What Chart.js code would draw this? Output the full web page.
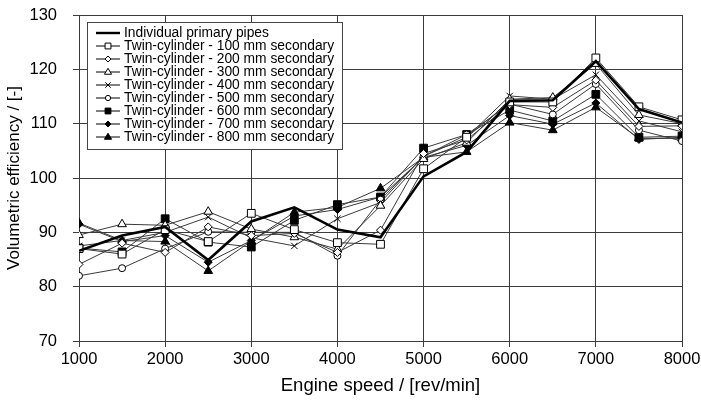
<!DOCTYPE html>
<html>
<head>
<meta charset="utf-8">
<script src="https://cdn.jsdelivr.net/npm/chart.js@4.4.0/dist/chart.umd.min.js"></script>
<style>
  html, body { margin: 0; padding: 0; background: #fff; }
</style>
</head>
<body>
<canvas id="myChart" width="701" height="406"></canvas>
<script>
// engine speed in rev/min
const speeds = [1000, 1500, 2000, 2500, 3000, 3500, 4000, 4500, 5000, 5500, 6000, 6500, 7000, 7500, 8000];

// volumetric efficiency for each exhaust layout
const primaryPipes = [86.6, 89.4, 91.0, 84.9, 92.0, 94.6, 90.5, 89.1, 100.3, 104.8, 114.2, 114.3, 121.5, 112.7, 110.2];
const twin100 = [87.0, 86.0, 90.5, 88.3, 93.5, 90.5, 88.1, 87.8, 101.7, 107.5, 114.0, 114.0, 122.1, 113.1, 110.7];
const twin200 = [84.1, 88.0, 86.3, 91.0, 89.4, 89.8, 86.3, 90.4, 104.5, 107.0, 113.5, 113.0, 118.0, 109.5, 109.6];
const twin300 = [89.5, 91.5, 91.3, 93.8, 90.6, 89.1, 86.9, 94.9, 103.5, 106.5, 114.5, 114.8, 121.0, 111.6, 110.0];
const twin400 = [87.5, 88.5, 90.0, 92.8, 89.0, 87.5, 92.5, 95.5, 104.0, 107.5, 115.1, 114.5, 119.0, 110.5, 108.5];
const twin500 = [82.0, 83.4, 87.0, 90.1, 90.0, 90.0, 85.7, 96.0, 104.0, 108.0, 113.6, 111.7, 117.3, 108.8, 106.8];
const twin600 = [87.1, 86.4, 92.5, 88.2, 87.3, 92.2, 95.1, 96.5, 105.5, 108.0, 112.5, 110.5, 115.4, 107.5, 107.7];
const twin700 = [91.5, 88.3, 89.4, 84.5, 88.5, 93.0, 94.2, 96.5, 103.8, 106.0, 111.5, 109.9, 113.8, 107.1, 107.5];
const twin800 = [91.7, 88.5, 88.3, 82.9, 88.4, 93.7, 94.6, 98.1, 103.8, 104.8, 110.2, 108.8, 113.0, 107.3, 107.3];

const seriesLabels = [
  "Individual primary pipes",
  "Twin-cylinder - 100 mm secondary",
  "Twin-cylinder - 200 mm secondary",
  "Twin-cylinder - 300 mm secondary",
  "Twin-cylinder - 400 mm secondary",
  "Twin-cylinder - 500 mm secondary",
  "Twin-cylinder - 600 mm secondary",
  "Twin-cylinder - 700 mm secondary",
  "Twin-cylinder - 800 mm secondary"
];

const FONT = "'Liberation Sans', Arial, sans-serif";

// marker look per twin-cylinder series
const markers = [
  { style: "rect",     radius: 5.5, fill: "#fff" },
  { style: "rectRot",  radius: 4,   fill: "#fff" },
  { style: "triangle", radius: 5,   fill: "#fff" },
  { style: "crossRot", radius: 4.5, fill: "#fff" },
  { style: "circle",   radius: 3.5, fill: "#fff" },
  { style: "rect",     radius: 5.5, fill: "#000" },
  { style: "rectRot",  radius: 4,   fill: "#000" },
  { style: "triangle", radius: 5,   fill: "#000" }
];

const toPoints = arr => arr.map((v, i) => ({ x: speeds[i], y: v }));

const twinData = [twin100, twin200, twin300, twin400, twin500, twin600, twin700, twin800];

const datasets = [{
  label: seriesLabels[0],
  data: toPoints(primaryPipes),
  borderColor: "#000",
  borderWidth: 2.6,
  pointRadius: 0,
  fill: false,
  order: 0
}];
twinData.forEach((d, i) => {
  datasets.push({
    label: seriesLabels[i + 1],
    data: toPoints(d),
    borderColor: "#3a3a3a",
    borderWidth: 1,
    pointStyle: markers[i].style,
    pointRadius: markers[i].radius,
    pointBackgroundColor: markers[i].fill,
    pointBorderColor: "#000",
    pointBorderWidth: 1,
    fill: false,
    order: i + 1
  });
});

// small marker for the legend rows
function legendMarker(ctx, m, x, y) {
  const r = m.radius * 0.75;
  ctx.save();
  ctx.fillStyle = m.fill;
  ctx.strokeStyle = "#000";
  ctx.lineWidth = 1;
  ctx.beginPath();
  if (m.style === "rect") {
    const s = r * Math.SQRT1_2;
    ctx.rect(x - s, y - s, 2 * s, 2 * s);
  } else if (m.style === "rectRot") {
    ctx.moveTo(x, y - r); ctx.lineTo(x + r, y); ctx.lineTo(x, y + r); ctx.lineTo(x - r, y); ctx.closePath();
  } else if (m.style === "triangle") {
    ctx.moveTo(x, y - r); ctx.lineTo(x + r * 0.95, y + r * 0.6); ctx.lineTo(x - r * 0.95, y + r * 0.6); ctx.closePath();
  } else if (m.style === "circle") {
    ctx.arc(x, y, r, 0, Math.PI * 2);
  } else if (m.style === "crossRot") {
    const s = r * 0.8;
    ctx.moveTo(x - s, y - s); ctx.lineTo(x + s, y + s);
    ctx.moveTo(x + s, y - s); ctx.lineTo(x - s, y + s);
    ctx.stroke(); ctx.restore(); return;
  }
  ctx.fill(); ctx.stroke();
  ctx.restore();
}

const boxedLegend = {
  id: "boxedLegend",
  afterDatasetsDraw(chart) {
    const ctx = chart.ctx;
    const left = 87, top = 22, width = 255, height = 127;
    ctx.save();
    ctx.fillStyle = "#fff";
    ctx.fillRect(left, top, width, height);
    ctx.strokeStyle = "#444";
    ctx.lineWidth = 1;
    ctx.strokeRect(left + 0.5, top + 0.5, width, height);
    ctx.font = "13.8px " + FONT;
    ctx.textBaseline = "middle";
    ctx.fillStyle = "#000";
    seriesLabels.forEach((lab, i) => {
      const y = top + 11 + i * 13;
      ctx.beginPath();
      ctx.strokeStyle = "#000";
      ctx.lineWidth = i === 0 ? 2.4 : 1;
      ctx.moveTo(96, y);
      ctx.lineTo(120, y);
      ctx.stroke();
      if (i > 0) legendMarker(ctx, markers[i - 1], 108, y);
      ctx.fillStyle = "#000";
      ctx.fillText(lab, 124, y + 0.5);
    });
    ctx.restore();
  }
};

new Chart(document.getElementById("myChart"), {
  type: "line",
  data: { datasets: datasets },
  plugins: [boxedLegend],
  options: {
    responsive: false,
    animation: false,
    layout: { padding: { top: 15, right: 19, left: 0, bottom: 0 } },
    plugins: {
      legend: { display: false },
      tooltip: { enabled: false }
    },
    scales: {
      x: {
        type: "linear",
        min: 1000,
        max: 8000,
        ticks: {
          stepSize: 1000, color: "#000", font: { family: FONT, size: 16.5 }, padding: 3, maxRotation: 0,
          callback: v => String(v)
        },
        grid: { color: "#3c3c3c", tickLength: 6 },
        border: { color: "#3c3c3c" },
        title: { display: true, text: "Engine speed / [rev/min]", color: "#000", font: { family: FONT, size: 18.5 }, padding: { top: 6, bottom: 9 } },
        afterFit(scale) { scale.height = 65; scale.paddingRight = 0; scale.paddingLeft = 0; }
      },
      y: {
        min: 70,
        max: 130,
        ticks: { stepSize: 10, color: "#000", font: { family: FONT, size: 16.5 }, padding: 16 },
        grid: { color: "#3c3c3c", tickLength: 6 },
        border: { color: "#3c3c3c" },
        title: { display: true, text: "Volumetric efficiency / [-]", color: "#000", font: { family: FONT, size: 17 }, padding: { top: 4, bottom: 0 } },
        afterFit(scale) { scale.width = 79; scale.paddingTop = 0; scale.paddingBottom = 0; }
      }
    }
  }
});
</script>
</body>
</html>
